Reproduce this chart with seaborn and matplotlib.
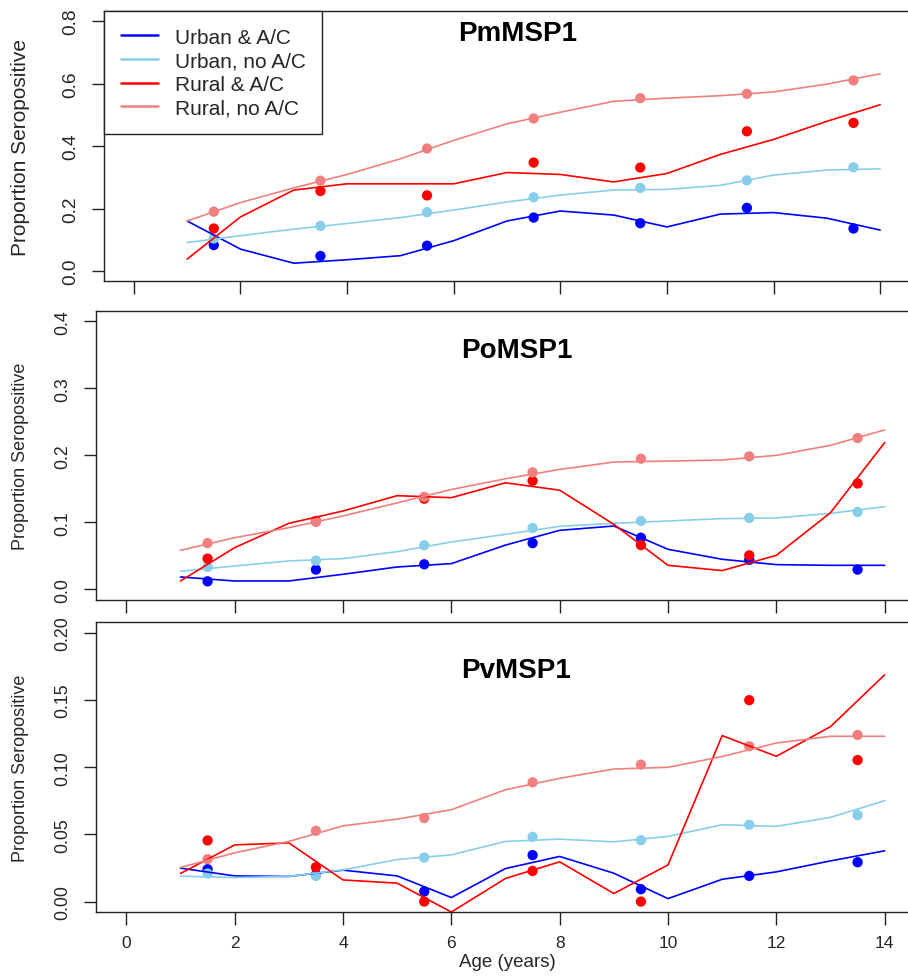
import numpy as np
import pandas as pd
import matplotlib
matplotlib.use("Agg")
import matplotlib.pyplot as plt
import seaborn as sns

# ---------------- data ----------------
groups = ["Urban & A/C", "Urban, no A/C", "Rural & A/C", "Rural, no A/C"]
colors = ["#0000FF", "#87CEEB", "#FF0000", "#F08080"]
titles = ["PmMSP1", "PoMSP1", "PvMSP1"]

ages = [1, 2, 3, 4, 5, 6, 7, 8, 9, 10, 11, 12, 13, 14]
pt_ages = [1.5, 3.5, 5.5, 7.5, 9.5, 11.5, 13.5]

# PmMSP1
pm_urban_ac_line = [0.160, 0.070, 0.025, 0.036, 0.049, 0.097, 0.160, 0.192, 0.179, 0.141, 0.182, 0.187, 0.169, 0.131]
pm_urban_noac_line = [0.091, 0.113, 0.134, 0.152, 0.171, 0.195, 0.221, 0.243, 0.259, 0.261, 0.274, 0.307, 0.323, 0.327]
pm_rural_ac_line = [0.038, 0.173, 0.259, 0.279, 0.279, 0.279, 0.315, 0.309, 0.285, 0.312, 0.373, 0.421, 0.479, 0.532]
pm_rural_noac_line = [0.160, 0.219, 0.266, 0.309, 0.359, 0.418, 0.471, 0.508, 0.543, 0.553, 0.561, 0.573, 0.598, 0.631]
pm_urban_ac_pts = [0.083, 0.048, 0.081, 0.171, 0.153, 0.202, 0.136]
pm_urban_noac_pts = [0.104, 0.144, 0.188, 0.236, 0.266, 0.290, 0.332]
pm_rural_ac_pts = [0.136, 0.256, 0.242, 0.347, 0.331, 0.447, 0.474]
pm_rural_noac_pts = [0.190, 0.289, 0.392, 0.488, 0.553, 0.567, 0.610]

# PoMSP1
po_urban_ac_line = [0.0184, 0.0124, 0.0124, 0.0224, 0.0333, 0.0383, 0.066, 0.088, 0.0945, 0.0597, 0.0448, 0.0368, 0.0358, 0.0358]
po_urban_noac_line = [0.0269, 0.0348, 0.0423, 0.0458, 0.0562, 0.0706, 0.082, 0.094, 0.0985, 0.102, 0.1055, 0.1065, 0.1134, 0.1234]
po_rural_ac_line = [0.0124, 0.0622, 0.0985, 0.1169, 0.1398, 0.1368, 0.159, 0.148, 0.097, 0.0358, 0.0279, 0.0507, 0.1144, 0.219]
po_rural_noac_line = [0.0582, 0.077, 0.092, 0.1095, 0.129, 0.149, 0.165, 0.179, 0.190, 0.1915, 0.193, 0.200, 0.215, 0.238]
po_urban_ac_pts = [0.0119, 0.0294, 0.0373, 0.069, 0.077, 0.044, 0.0294]
po_urban_noac_pts = [0.0333, 0.0428, 0.0657, 0.0915, 0.102, 0.1065, 0.1154]
po_rural_ac_pts = [0.0458, 0.102, 0.1353, 0.162, 0.066, 0.0507, 0.158]
po_rural_noac_pts = [0.069, 0.1005, 0.138, 0.1746, 0.195, 0.1985, 0.2258]

# PvMSP1
pv_urban_ac_line = [0.0249, 0.0191, 0.0187, 0.0234, 0.0191, 0.003, 0.0246, 0.0336, 0.0211, 0.0022, 0.0166, 0.0221, 0.0303, 0.0378]
pv_urban_noac_line = [0.0189, 0.0179, 0.0187, 0.0236, 0.0313, 0.0348, 0.0448, 0.0465, 0.0445, 0.0485, 0.0572, 0.056, 0.0627, 0.0751]
pv_rural_ac_line = [0.0209, 0.0422, 0.0437, 0.0161, 0.0137, -0.0078, 0.0172, 0.0296, 0.006, 0.0273, 0.1236, 0.1082, 0.1303, 0.1689]
pv_rural_noac_line = [0.0254, 0.0363, 0.0448, 0.0564, 0.0614, 0.0684, 0.0833, 0.0918, 0.0987, 0.100, 0.108, 0.1181, 0.1231, 0.1231]
pv_urban_ac_pts = [0.0241, 0.020, 0.0075, 0.0346, 0.0092, 0.0191, 0.0293]
pv_urban_noac_pts = [0.0209, 0.0191, 0.0328, 0.0482, 0.0457, 0.0572, 0.0644]
pv_rural_ac_pts = [0.0455, 0.0256, 0.0, 0.0228, 0.0, 0.150, 0.1054]
pv_rural_noac_pts = [0.0316, 0.0527, 0.0622, 0.0888, 0.102, 0.1157, 0.1241]

y_maxes = [0.8, 0.4, 0.2]
y_ticks = [[0.0, 0.2, 0.4, 0.6, 0.8], [0.0, 0.1, 0.2, 0.3, 0.4], [0.0, 0.05, 0.10, 0.15, 0.20]]
y_ticklabels = [["0.0", "0.2", "0.4", "0.6", "0.8"], ["0.0", "0.1", "0.2", "0.3", "0.4"],
                ["0.00", "0.05", "0.10", "0.15", "0.20"]]
x_ticks = [0, 2, 4, 6, 8, 10, 12, 14]

lines_data = [
    [pm_urban_ac_line, pm_urban_noac_line, pm_rural_ac_line, pm_rural_noac_line],
    [po_urban_ac_line, po_urban_noac_line, po_rural_ac_line, po_rural_noac_line],
    [pv_urban_ac_line, pv_urban_noac_line, pv_rural_ac_line, pv_rural_noac_line],
]
pts_data = [
    [pm_urban_ac_pts, pm_urban_noac_pts, pm_rural_ac_pts, pm_rural_noac_pts],
    [po_urban_ac_pts, po_urban_noac_pts, po_rural_ac_pts, po_rural_noac_pts],
    [pv_urban_ac_pts, pv_urban_noac_pts, pv_rural_ac_pts, pv_rural_noac_pts],
]

# ---------------- style ----------------
sns.set_theme(style="white")
plt.rcParams["font.family"] = ["Liberation Sans", "DejaVu Sans"]
plt.rcParams["axes.edgecolor"] = "#222222"
plt.rcParams["axes.linewidth"] = 1.0

W, H = 908, 979
fig = plt.figure(figsize=(W / 100, H / 100), dpi=100)

# axes boxes in pixels: left, right, top, bottom
boxes = [(104, 910, 12, 282), (96, 915, 311.7, 601), (96, 915, 623.3, 913.3)]
title_y = [0.763, 0.357, 0.1726]
tick_fs = [13.8, 12.8, 12.8]
ylab_fs = [15, 13, 13]
palette = dict(zip(groups, colors))

axes = []
for i in range(3):
    l, r, t, b = boxes[i]
    ax = fig.add_axes([l / W, 1 - b / H, (r - l) / W, (b - t) / H])
    axes.append(ax)

    df_l = pd.DataFrame({
        "age": np.tile(ages, 4),
        "value": np.concatenate(lines_data[i]),
        "group": np.repeat(groups, len(ages)),
    })
    df_p = pd.DataFrame({
        "age": np.tile(pt_ages, 4),
        "value": np.concatenate(pts_data[i]),
        "group": np.repeat(groups, len(pt_ages)),
    })
    sns.lineplot(data=df_l, x="age", y="value", hue="group", hue_order=groups,
                 palette=palette, linewidth=1.2, errorbar=None, ax=ax,
                 legend=(i == 0))
    sns.scatterplot(data=df_p, x="age", y="value", hue="group", hue_order=groups,
                    palette=palette, s=55, linewidth=0, ax=ax, legend=False)

    ym = y_maxes[i]
    ax.set_xlim(-0.56, 14.56)
    ax.set_ylim(-0.04 * ym, 1.04 * ym)
    ax.set_xticks(x_ticks)
    ax.set_yticks(y_ticks[i])
    ax.set_yticklabels(y_ticklabels[i], fontsize=tick_fs[i], rotation=90, va="center")
    ax.tick_params(axis="both", direction="out", length=9, width=1.0, color="#222222",
                   left=True, bottom=True)
    ax.tick_params(axis="y", pad=9)
    if i < 2:
        ax.set_xticklabels([])
    else:
        ax.set_xticklabels([str(v) for v in x_ticks], fontsize=12.5)
        ax.tick_params(axis="x", pad=7)
    for sp in ["top", "left", "bottom", "right"]:
        ax.spines[sp].set_visible(True)
        ax.spines[sp].set_color("#222222")

    ax.set_ylabel("Proportion Seropositive", fontsize=ylab_fs[i], va="center")
    ax.yaxis.set_label_coords((20 - l) / (r - l), 0.5)
    if i == 2:
        ax.set_xlabel("Age (years)", fontsize=13.5, va="center")
        ax.xaxis.set_label_coords((507 - l) / (r - l), (b - 963) / (b - t))
    else:
        ax.set_xlabel("")

    ax.text(7.2, title_y[i], titles[i], ha="center", va="center",
            fontsize=20, fontweight="bold", color="black")

# legend in first panel
ax0 = axes[0]
handles, labels = ax0.get_legend_handles_labels()
old = ax0.get_legend()
if old is not None:
    old.remove()
leg = ax0.legend(handles=handles[:4], labels=groups, loc="upper left",
                 bbox_to_anchor=(0, 1), borderaxespad=0, frameon=True,
                 fancybox=False, framealpha=1, edgecolor="#222222",
                 fontsize=15, handlelength=1.8, handletextpad=0.8,
                 labelspacing=0.22, borderpad=0.8)
leg.get_frame().set_linewidth(1.0)
for ln in leg.get_lines():
    ln.set_linewidth(1.8)

fig.savefig("out.png", dpi=100)
